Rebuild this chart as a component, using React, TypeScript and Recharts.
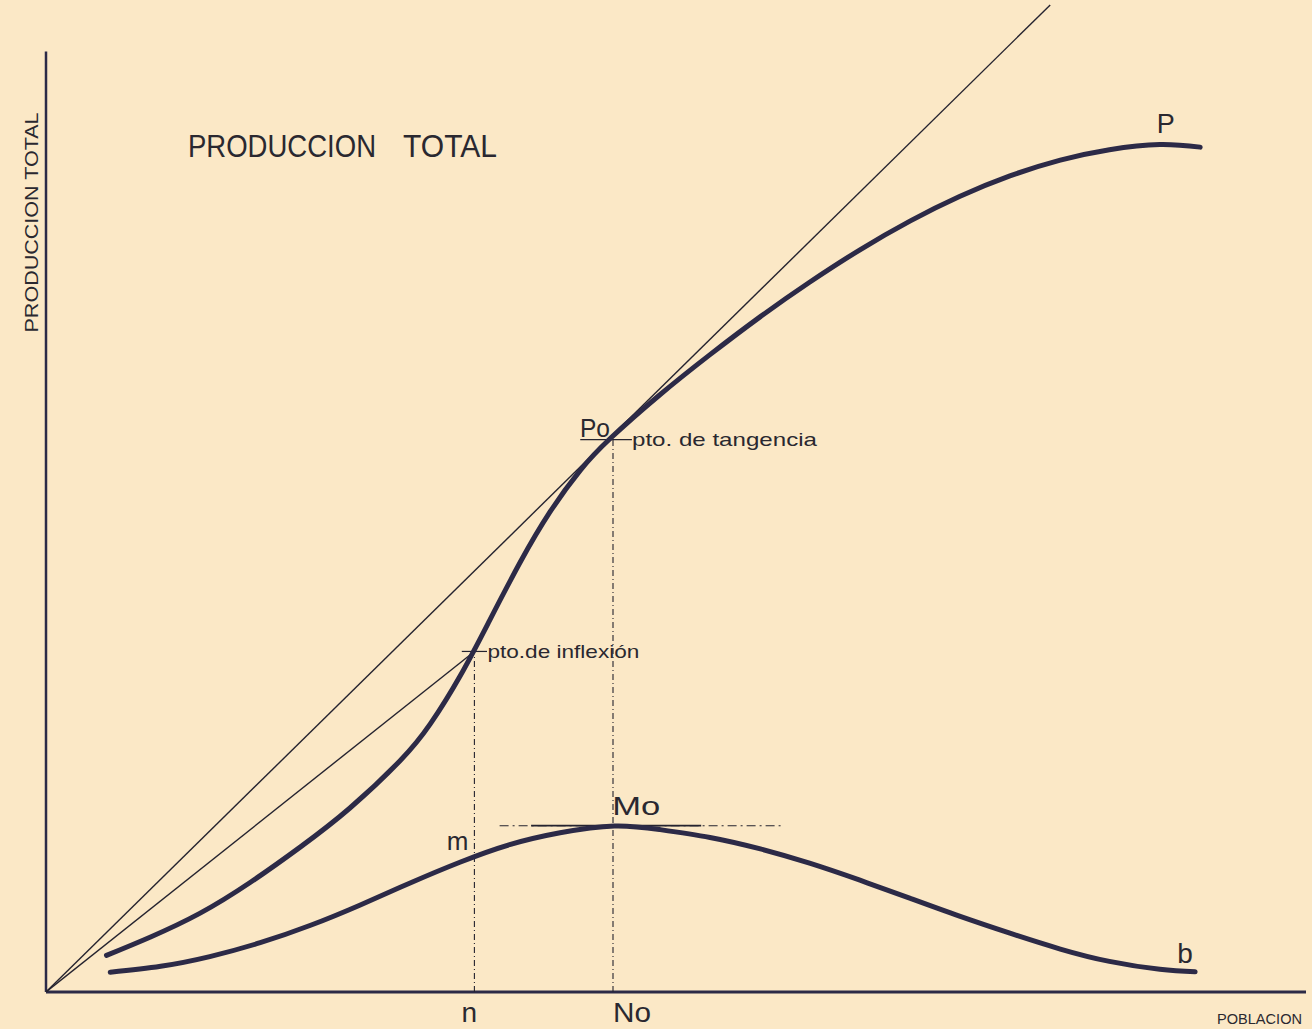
import React from 'react';
import { LineChart, Line, XAxis, YAxis, ReferenceLine, ReferenceDot } from 'recharts';

// total production curve P (población -> producción)
const popP = [4.8, 8.3, 12.2, 16.2, 20.2, 24.1, 28.1, 30.5, 32.9, 35.2, 37.6, 40.0, 42.4, 44.8, 48.7, 52.7, 56.7, 60.6, 64.6, 68.6, 72.5, 76.5, 80.5, 84.4, 88.4, 91.6];
const totalProd = [3.7, 5.56, 7.94, 11.06, 14.66, 18.56, 23.36, 27.08, 32.0, 37.52, 43.33, 48.49, 52.69, 55.93, 60.3, 64.38, 68.22, 71.69, 74.97, 77.89, 80.35, 82.43, 84.03, 85.08, 85.6, 85.34];

// lower curve m - Mo - b
const popB = [5.1, 9.1, 13.0, 17.0, 21.0, 24.9, 28.9, 32.9, 36.8, 40.8, 45.1, 48.7, 52.7, 56.7, 60.6, 64.6, 68.6, 72.5, 76.5, 80.5, 84.4, 88.4, 91.2];
const prodB = [2.0, 2.6, 3.58, 4.98, 6.74, 8.77, 11.01, 13.13, 14.88, 16.08, 16.77, 16.41, 15.61, 14.45, 13.01, 11.29, 9.45, 7.66, 5.94, 4.34, 3.09, 2.29, 2.04];

// key points
const nX = 34.0;
const inflY = 34.4;
const noX = 45.0;
const poY = 55.8;
const moX = 45.1;
const moY = 16.8;
const mY = 13.6;
const tangentEnd = { x: 79.7, y: 99.7 };
const yAxisTop = 95;

const INK = '#2c2a47';
const THIN = '#25232f';
const TEXT = '#2a2830';
const FONT = '"Liberation Sans", Arial, sans-serif';

const pData = popP.map((x, i) => ({ x, y: totalProd[i] }));
const bData = popB.map((x, i) => ({ x, y: prodB[i] }));
const tangentData = [{ x: 0, y: 0 }, tangentEnd];
const chordData = [{ x: 0, y: 0 }, { x: nX, y: inflY }];

const note = (text: string, dx: number, dy: number, size: number, opts: any = {}) => (props: any) => {
  const vb = props.viewBox || {};
  const x = (vb.x || 0) + (vb.width || 0) / 2 + dx;
  const y = (vb.y || 0) + (vb.height || 0) / 2 + dy;
  return (
    <text
      x={x}
      y={y}
      fontSize={size}
      fontFamily={FONT}
      fill={TEXT}
      textAnchor={opts.anchor || 'start'}
      textLength={opts.len}
      lengthAdjust={opts.len ? 'spacingAndGlyphs' : undefined}
      transform={opts.rotate ? `rotate(${opts.rotate} ${x} ${y})` : undefined}
    >
      {text}
    </text>
  );
};

const App = () => {
  return (
    <div style={{ position: 'absolute', left: 0, top: 0, width: 1312, height: 1029, background: '#fbe8c6' }}>
      <LineChart width={1312} height={1029} margin={{ top: 2, right: 6, bottom: 37, left: 46 }}>
        <XAxis type="number" dataKey="x" domain={[0, 100]} hide height={0} allowDataOverflow />
        <YAxis type="number" dataKey="y" domain={[0, 100]} hide width={0} allowDataOverflow />

        {/* axes */}
        <ReferenceLine segment={[{ x: 0, y: 0 }, { x: 100, y: 0 }]} stroke={INK} strokeWidth={3} ifOverflow="visible" />
        <ReferenceLine segment={[{ x: 0, y: 0 }, { x: 0, y: yAxisTop }]} stroke={INK} strokeWidth={2.5} ifOverflow="visible" />

        {/* dashed verticals at n and No */}
        <ReferenceLine segment={[{ x: nX, y: 0 }, { x: nX, y: inflY }]} stroke={THIN} strokeWidth={1.1} strokeDasharray="6 3 1 3" ifOverflow="visible" />
        <ReferenceLine segment={[{ x: noX, y: 0 }, { x: noX, y: poY }]} stroke={THIN} strokeWidth={1.1} strokeDasharray="6 3 1 3" ifOverflow="visible" />

        {/* small ticks at Po and inflection */}
        <ReferenceLine segment={[{ x: 42.4, y: poY }, { x: 46.5, y: poY }]} stroke={THIN} strokeWidth={1.2} ifOverflow="visible" />
        <ReferenceLine segment={[{ x: 33.0, y: inflY }, { x: 35.0, y: inflY }]} stroke={THIN} strokeWidth={1.2} ifOverflow="visible" />

        {/* horizontal tangent at Mo */}
        <ReferenceLine segment={[{ x: 36.0, y: moY }, { x: 58.3, y: moY }]} stroke={THIN} strokeWidth={1.1} strokeDasharray="9 4 2 4" ifOverflow="visible" />
        <ReferenceLine segment={[{ x: 38.5, y: moY }, { x: 52.0, y: moY }]} stroke={THIN} strokeWidth={1.8} ifOverflow="visible" />

        <Line data={tangentData} dataKey="y" type="linear" stroke={THIN} strokeWidth={1.4} dot={false} isAnimationActive={false} />
        <Line data={chordData} dataKey="y" type="linear" stroke={THIN} strokeWidth={1.4} dot={false} isAnimationActive={false} />
        <Line data={pData} dataKey="y" type="natural" stroke={INK} strokeWidth={5} strokeLinecap="round" dot={false} isAnimationActive={false} />
        <Line data={bData} dataKey="y" type="natural" stroke={INK} strokeWidth={5} strokeLinecap="round" dot={false} isAnimationActive={false} />

        {/* labels */}
        <ReferenceDot x={0} y={yAxisTop} r={0} ifOverflow="visible" label={note('PRODUCCION', 142, 105, 31, { len: 188 })} />
        <ReferenceDot x={0} y={yAxisTop} r={0} ifOverflow="visible" label={note('TOTAL', 357, 105, 31, { len: 94 })} />
        <ReferenceDot x={0} y={yAxisTop} r={0} ifOverflow="visible" label={note('PRODUCCION  TOTAL', -8, 171, 18, { anchor: 'middle', rotate: -90, len: 220 })} />
        <ReferenceDot x={88.4} y={85.6} r={0} ifOverflow="visible" label={note('P', 6, -12, 27, { anchor: 'middle' })} />
        <ReferenceDot x={noX} y={poY} r={0} ifOverflow="visible" label={note('Po', -3, -3, 25, { anchor: 'end', len: 30 })} />
        <ReferenceDot x={noX} y={poY} r={0} ifOverflow="visible" label={note('pto.  de  tangencia', 19, 6, 19, { len: 185 })} />
        <ReferenceDot x={nX} y={inflY} r={0} ifOverflow="visible" label={note('pto.de inflexión', 13, 7, 19, { len: 152 })} />
        <ReferenceDot x={moX} y={moY} r={0} ifOverflow="visible" label={note('Mo', -2, -11, 26, { len: 48 })} />
        <ReferenceDot x={nX} y={mY} r={0} ifOverflow="visible" label={note('m', -6, -7, 26, { anchor: 'end' })} />
        <ReferenceDot x={91.2} y={2.0} r={0} ifOverflow="visible" label={note('b', -10, -9, 28, { anchor: 'middle' })} />
        <ReferenceDot x={nX} y={0} r={0} ifOverflow="visible" label={note('n', -5, 30, 28, { anchor: 'middle' })} />
        <ReferenceDot x={noX} y={0} r={0} ifOverflow="visible" label={note('No', 0, 30, 28, { len: 38 })} />
        <ReferenceDot x={100} y={0} r={0} ifOverflow="visible" label={note('POBLACION', -4, 32, 15, { anchor: 'end', len: 85 })} />
      </LineChart>
    </div>
  );
};

export default App;
